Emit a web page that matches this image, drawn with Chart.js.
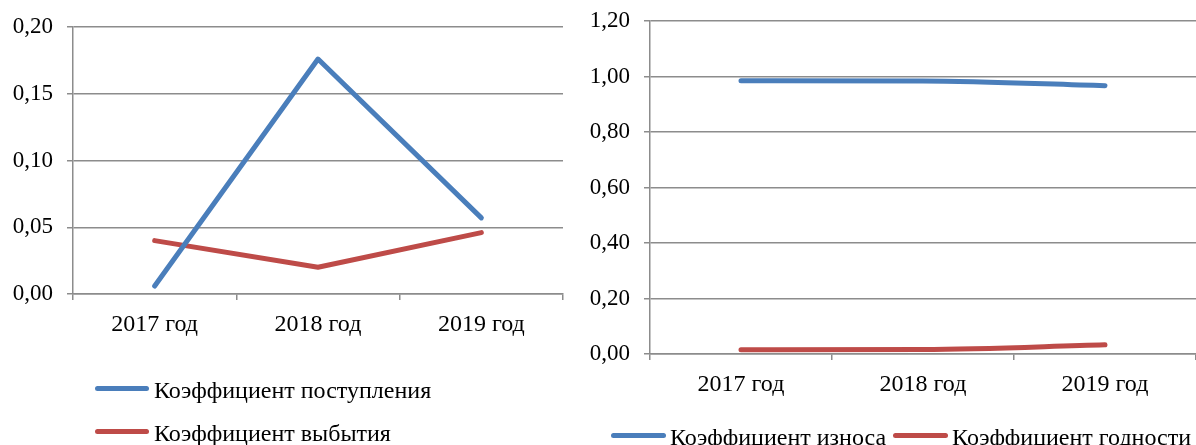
<!DOCTYPE html>
<html lang="ru">
<head>
<meta charset="utf-8">
<title>Коэффициенты движения и состояния основных средств</title>
<script src="https://cdn.jsdelivr.net/npm/chart.js@4/dist/chart.umd.min.js"></script>
<style>
  html, body { margin: 0; padding: 0; background: #fff; overflow: hidden; }
  body { width: 1196px; height: 445px; position: relative;
         font-family: 'Liberation Serif', 'Times New Roman', serif; color: #000; }
  .panel { position: absolute; top: 0; height: 445px; }
  #left { left: 0; width: 570px; }
  #right { left: 570px; width: 626px; }
  .legend { position: absolute; margin: 0; padding: 0; list-style: none; font-size: 24px; line-height: 30px; }
  .legend li { display: flex; align-items: center; white-space: nowrap; }
  .legend .swatch { display: inline-block; width: 54px; height: 5px; border-radius: 3px;
                    margin-right: 5px; position: relative; top: -2px; }
  #legendLeft { left: 95px; top: 375px; }
  #legendLeft li { height: 30px; margin-bottom: 13px; }
  #legendRight { left: 611px; top: 422px; display: flex; }
  #legendRight li + li { margin-left: 7px; }
  #legendRight .swatch { width: 55px; margin-right: 4px; }
</style>
</head>
<body>
<div class="panel" id="left"><canvas id="chartLeft"></canvas></div>
<div class="panel" id="right"><canvas id="chartRight"></canvas></div>
<ul class="legend" id="legendLeft"></ul>
<ul class="legend" id="legendRight"></ul>
<script>
// Годы наблюдения
const years = ['2017 год', '2018 год', '2019 год'];

// Движение основных средств
const intakeRate = [0.006, 0.176, 0.057];     // Коэффициент поступления
const disposalRate = [0.040, 0.020, 0.046];   // Коэффициент выбытия
const leftTickLabels = ['0,00', '0,05', '0,10', '0,15', '0,20'];

// Состояние основных средств
const wearRate = [0.985, 0.984, 0.967];       // Коэффициент износа
const fitnessRate = [0.015, 0.016, 0.033];    // Коэффициент годности
const rightTickLabels = ['0,00', '0,20', '0,40', '0,60', '0,80', '1,00', '1,20'];

const BLUE = '#4A7EBB';
const RED = '#BE4B48';
const GRID = '#8C8C8C';
const FONT = "'Liberation Serif', 'Times New Roman', serif";

Chart.defaults.font.family = FONT;
Chart.defaults.color = '#000';
Chart.defaults.animation = false;
Chart.defaults.maintainAspectRatio = false;
Chart.defaults.responsive = true;

// Legend rendered as HTML list from the chart's own datasets
const htmlLegend = {
  id: 'htmlLegend',
  afterUpdate(chart, args, opts) {
    const list = document.getElementById(opts.containerID);
    list.innerHTML = '';
    chart.data.datasets.forEach(ds => {
      const li = document.createElement('li');
      const sw = document.createElement('span');
      sw.className = 'swatch';
      sw.style.background = ds.borderColor;
      const tx = document.createElement('span');
      tx.textContent = ds.label;
      li.appendChild(sw);
      li.appendChild(tx);
      list.appendChild(li);
    });
  }
};

function lineSet(label, data, color, smooth) {
  return {
    label, data,
    borderColor: color,
    backgroundColor: color,
    borderWidth: 5,
    borderCapStyle: 'round',
    borderJoinStyle: 'round',
    pointRadius: 0,
    pointHoverRadius: 0,
    cubicInterpolationMode: smooth ? 'monotone' : 'default',
    tension: 0
  };
}

function scalesFor(max, step, labels, yWidth, xHeight) {
  return {
    x: {
      offset: true,
      grid: { offset: true, drawOnChartArea: false, drawTicks: true, tickLength: 6, color: GRID, lineWidth: 1.5 },
      border: { color: GRID, width: 1.5 },
      ticks: { font: { size: 24 }, padding: 10, maxRotation: 0 },
      afterFit: s => { s.height = xHeight; }
    },
    y: {
      min: 0, max: max,
      grid: { color: GRID, lineWidth: 1.5, tickLength: 6 },
      border: { color: GRID, width: 1.5 },
      ticks: {
        stepSize: step,
        font: { size: 23 },
        padding: 14,
        callback: (v, i) => labels[i]
      },
      afterFit: s => { s.width = yWidth; s.paddingTop = 0; s.paddingBottom = 0; }
    }
  };
}

new Chart(document.getElementById('chartLeft'), {
  type: 'line',
  data: {
    labels: years,
    datasets: [
      lineSet('Коэффициент поступления', intakeRate, BLUE, false),
      lineSet('Коэффициент выбытия', disposalRate, RED, false)
    ]
  },
  options: {
    layout: { padding: { top: 27, right: 7, left: 0, bottom: 87 } },
    scales: scalesFor(0.2, 0.05, leftTickLabels, 73, 64),
    plugins: {
      tooltip: { enabled: false },
      legend: { display: false },
      htmlLegend: { containerID: 'legendLeft' }
    }
  },
  plugins: [htmlLegend]
});

new Chart(document.getElementById('chartRight'), {
  type: 'line',
  data: {
    labels: years,
    datasets: [
      lineSet('Коэффициент износа', wearRate, BLUE, true),
      lineSet('Коэффициент годности', fitnessRate, RED, true)
    ]
  },
  options: {
    layout: { padding: { top: 21, right: 0, left: 0, bottom: 27 } },
    scales: scalesFor(1.2, 0.2, rightTickLabels, 80, 64),
    plugins: {
      tooltip: { enabled: false },
      legend: { display: false },
      htmlLegend: { containerID: 'legendRight' }
    }
  },
  plugins: [htmlLegend]
});
</script>
</body>
</html>
